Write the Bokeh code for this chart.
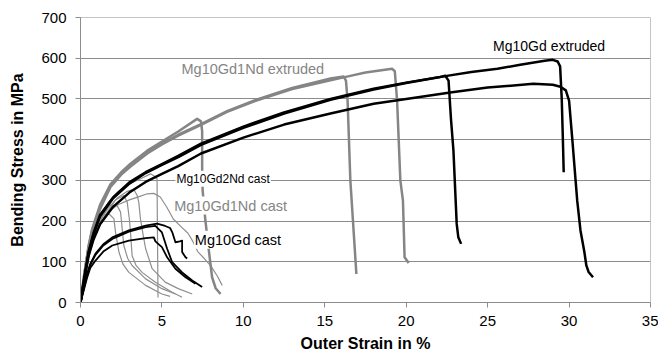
from bokeh.plotting import figure
from bokeh.models import Range1d, FixedTicker, Label
from bokeh.embed import file_html
from bokeh.resources import INLINE

# ---------------- data (strain in %, stress in MPa) ----------------
# Mg10Gd extruded (black, thick)
ext_gd_a_x = [0, 0.25, 0.5, 0.8, 1.2, 2.0, 3.0, 4.0, 5.0, 6.0, 7.4, 10, 12.5, 15.35, 18, 20, 22.4, 24, 25.6, 27, 28.5, 29.0, 29.3, 29.45, 29.55, 29.62, 29.67]
ext_gd_a_y = [0, 65, 125, 170, 215, 258, 295, 320, 340, 360, 390, 432, 467, 500, 525, 540, 556, 566, 574, 584, 594, 596, 592, 580, 500, 400, 320]
ext_gd_b_x = [0, 0.25, 0.5, 0.8, 1.2, 2.0, 3.0, 4.0, 5.0, 6.0, 7.4, 10, 12.5, 15.35, 18, 20, 22.7, 25, 27.8, 29.0, 29.47, 29.8, 30.0, 30.2, 30.4, 30.5, 30.7, 30.94, 31.06, 31.2, 31.47]
ext_gd_b_y = [0, 60, 115, 155, 192, 235, 270, 296, 316, 335, 366, 405, 437, 464, 488, 500, 516, 528, 537, 535, 530, 521, 496, 400, 300, 250, 177, 124, 91, 75, 62]
ext_gd_c_x = [0, 0.25, 0.5, 0.8, 1.2, 2.0, 3.0, 4.0, 5.0, 6.0, 7.4, 10, 12.5, 15.35, 18, 20, 22.0, 22.4, 22.6, 22.75, 22.9, 23.1, 23.2, 23.37]
ext_gd_c_y = [0, 63, 122, 168, 212, 256, 292, 318, 338, 357, 387, 429, 464, 498, 523, 539, 553, 557, 545, 450, 373, 193, 160, 144]

# Mg10Gd1Nd extruded (grey, thick)
ext_nd_a_x = [0, 0.25, 0.5, 0.72, 1.2, 1.84, 2.5, 3.07, 4.1, 5.0, 6.0, 7.16, 7.4, 7.47, 7.47, 7.5, 7.67, 7.88, 8.08, 8.3, 8.6]
ext_nd_a_y = [0, 75, 140, 181, 240, 290, 320, 341, 373, 395, 420, 451, 445, 420, 332, 275, 201, 128, 62, 35, 21]
ext_nd_b_x = [0, 0.25, 0.5, 0.72, 1.2, 1.84, 2.5, 3.07, 4.1, 5.0, 6.0, 7.4, 9.0, 10.8, 13.0, 15.35, 16.16, 16.3, 16.4, 16.57, 16.94]
ext_nd_b_y = [0, 73, 137, 178, 232, 286, 316, 336, 368, 390, 412, 438, 470, 498, 527, 550, 555, 545, 496, 300, 70]
ext_nd_c_x = [0, 0.25, 0.5, 0.72, 1.2, 1.84, 2.5, 3.07, 4.1, 5.0, 6.0, 7.4, 9.0, 10.8, 13.0, 15.35, 16.5, 17.5, 19.13, 19.3, 19.44, 19.64, 19.8, 19.9, 20.15]
ext_nd_c_y = [0, 72, 135, 176, 230, 284, 314, 334, 366, 388, 410, 436, 468, 496, 524, 546, 556, 565, 574, 568, 496, 300, 250, 111, 97]

# Mg10Gd1Nd / Mg10Gd2Nd cast (grey, thin)
cast_nd_1_x = [0, 0.25, 0.5, 0.8, 1.2, 1.7, 2.3, 3.0, 3.6, 4.3, 4.55, 4.7, 4.72, 4.74, 4.76]
cast_nd_1_y = [0, 70, 125, 170, 210, 245, 272, 292, 302, 316, 310, 304, 200, 100, 12]
cast_nd_2_x = [0, 0.25, 0.5, 0.8, 1.2, 1.7, 2.3, 2.87, 3.27, 3.48, 3.58, 3.68, 3.85, 4.0, 4.4, 5.2, 6.0, 6.86]
cast_nd_2_y = [0, 68, 120, 162, 200, 232, 258, 273, 278, 263, 246, 206, 165, 132, 83, 50, 34, 21]
cast_nd_3_x = [0, 0.25, 0.5, 0.8, 1.2, 1.7, 2.15, 2.66, 2.87, 3.0, 3.07, 3.17, 3.4, 3.78, 4.6, 5.63, 6.24]
cast_nd_3_y = [0, 66, 115, 155, 192, 225, 252, 263, 246, 205, 173, 115, 92, 74, 50, 25, 13]
cast_nd_4_x = [0, 0.25, 0.5, 0.8, 1.2, 1.74, 2.25, 2.46, 2.56, 2.66, 2.9, 3.17, 4.0, 5.0, 5.83]
cast_nd_4_y = [0, 64, 112, 155, 200, 240, 238, 222, 181, 140, 108, 91, 58, 34, 21]
cast_nd_5_x = [0, 0.25, 0.5, 0.8, 1.1, 1.33, 1.74, 2.05, 2.15, 2.36, 2.6, 2.97, 4.0, 5.0, 5.5]
cast_nd_5_y = [0, 62, 110, 160, 200, 214, 218, 206, 173, 124, 95, 74, 42, 21, 15]
cast_nd_6_x = [0, 0.25, 0.5, 0.8, 1.2, 1.7, 2.3, 3.0, 3.6, 4.1, 4.5, 4.9, 5.3, 5.7, 6.2, 6.6, 6.9, 7.2, 7.6, 8.0, 8.4, 8.7]
cast_nd_6_y = [0, 65, 115, 158, 195, 222, 240, 252, 260, 267, 268, 259, 234, 205, 185, 170, 150, 125, 108, 90, 65, 42]

# Mg10Gd cast (black, medium)
cast_gd_1_x = [0, 0.2, 0.4, 0.6, 0.92, 1.4, 1.95, 2.97, 4.0, 4.7, 5.2, 5.5, 5.63, 5.83, 6.1, 6.24, 6.24, 6.45, 6.55]
cast_gd_1_y = [0, 35, 70, 95, 120, 143, 160, 177, 189, 194, 188, 183, 173, 148, 150, 152, 124, 111, 108]
cast_gd_2_x = [0, 0.2, 0.4, 0.6, 0.92, 1.4, 1.95, 2.97, 4.0, 4.6, 5.0, 5.32, 5.63, 6.24, 6.86, 7.47]
cast_gd_2_y = [0, 33, 66, 92, 117, 140, 156, 174, 185, 188, 172, 132, 99, 74, 54, 38]
cast_gd_3_x = [0, 0.2, 0.4, 0.6, 0.92, 1.4, 1.95, 2.97, 4.0, 4.5, 4.6, 5.0, 5.32, 5.83, 6.45, 7.06]
cast_gd_3_y = [0, 30, 60, 85, 103, 125, 140, 152, 158, 160, 150, 136, 111, 83, 62, 46]

x_ticks = [0, 5, 10, 15, 20, 25, 30, 35]
y_ticks = [0, 100, 200, 300, 400, 500, 600, 700]

FONT = "Liberation Sans"
BLACK = "#000000"
GREY = "#858585"
THIN_GREY = "#8f8f8f"

p = figure(width=658, height=354, output_backend="svg", toolbar_location=None,
           x_range=Range1d(0, 35), y_range=Range1d(0, 700),
           min_border_left=80, min_border_right=8, min_border_top=17, min_border_bottom=52)

p.background_fill_color = "white"
p.border_fill_color = "white"
p.outline_line_color = "#c4c4c4"
p.xgrid.visible = False
p.ygrid.ticker = FixedTicker(ticks=y_ticks)
p.ygrid.grid_line_color = "#8c8c8c"
p.ygrid.grid_line_width = 1

p.xaxis.ticker = FixedTicker(ticks=x_ticks)
p.yaxis.ticker = FixedTicker(ticks=y_ticks)
for ax in (p.xaxis, p.yaxis):
    ax.axis_line_color = "#8c8c8c"
    ax.major_tick_line_color = "#8c8c8c"
    ax.major_tick_out = 5
    ax.major_tick_in = 0
    ax.minor_tick_line_color = None
    ax.major_label_text_font = FONT
    ax.major_label_text_font_size = "15px"
    ax.major_label_text_color = "black"
    ax.axis_label_text_font = FONT
    ax.axis_label_text_font_size = "16px"
    ax.axis_label_text_font_style = "bold"
    ax.axis_label_text_color = "black"
p.xaxis.axis_label = "Outer Strain in %"
p.yaxis.axis_label = "Bending Stress in MPa"
p.xaxis.major_label_standoff = 8
p.yaxis.major_label_standoff = 9
p.xaxis.axis_label_standoff = 6
p.yaxis.axis_label_standoff = 12

# thin grey cast curves
for xs, ys in [(cast_nd_1_x, cast_nd_1_y), (cast_nd_2_x, cast_nd_2_y), (cast_nd_3_x, cast_nd_3_y),
               (cast_nd_4_x, cast_nd_4_y), (cast_nd_5_x, cast_nd_5_y), (cast_nd_6_x, cast_nd_6_y)]:
    p.line(xs, ys, line_color=THIN_GREY, line_width=1.2, line_join="round")

# grey extruded curves
for xs, ys in [(ext_nd_a_x, ext_nd_a_y), (ext_nd_b_x, ext_nd_b_y), (ext_nd_c_x, ext_nd_c_y)]:
    p.line(xs, ys, line_color=GREY, line_width=2.5, line_join="round")

# black cast curves
for xs, ys in [(cast_gd_1_x, cast_gd_1_y), (cast_gd_2_x, cast_gd_2_y), (cast_gd_3_x, cast_gd_3_y)]:
    p.line(xs, ys, line_color=BLACK, line_width=1.8, line_join="round")

# black extruded curves
for xs, ys in [(ext_gd_a_x, ext_gd_a_y), (ext_gd_b_x, ext_gd_b_y), (ext_gd_c_x, ext_gd_c_y)]:
    p.line(xs, ys, line_color=BLACK, line_width=2.5, line_join="round")

labels = [
    ("Mg10Gd extruded", 25.27, 631, BLACK, "14px"),
    ("Mg10Gd1Nd extruded", 6.14, 574, GREY, "14.5px"),
    ("Mg10Gd2Nd cast", 5.83, 304, BLACK, "12px"),
    ("Mg10Gd1Nd cast", 5.69, 238, GREY, "14.5px"),
    ("Mg10Gd cast", 6.96, 154, BLACK, "14.5px"),
]
for text, lx, ly, col, size in labels:
    p.add_layout(Label(x=lx, y=ly, text=text, text_font=FONT, text_font_size=size,
                       text_color=col, text_baseline="middle", text_align="left",
                       background_fill_color="white", background_fill_alpha=1.0,
                       padding=1))

open("out.html", "w").write(file_html(p, INLINE))
